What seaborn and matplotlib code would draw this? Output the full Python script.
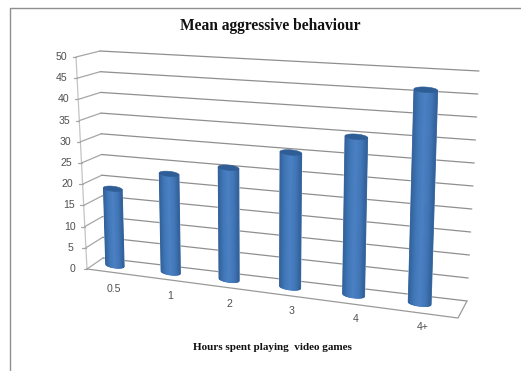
import numpy as np
import pandas as pd
import seaborn as sns
import matplotlib.pyplot as plt
from matplotlib.transforms import Transform, IdentityTransform
from matplotlib.colors import LinearSegmentedColormap

sns.set_theme(style="white")

hours = ["0.5", "1", "2", "3", "4", "4+"]
behaviour = [18.2, 23.0, 25.7, 30.4, 35.1, 46.5]
y_ticks = [0, 5, 10, 15, 20, 25, 30, 35, 40, 45, 50]

W, H = 521, 371
BAR_DEPTH = 0.55

# corners of the excel 3d box in image pixels (front/back, left/right)
FL0, FL1 = np.array([87, 269.]), np.array([76, 57.])
BL0, BL1 = np.array([103, 258.]), np.array([100, 51.])
FR0, FR1 = np.array([458, 318.]), np.array([462, 83.])
BR0, BR1 = np.array([467, 301.]), np.array([479, 71.])


def along(i):
    # category position -> share of the box width, spacing grows to the right
    return 0.052 + 0.152 * i + 0.0035 * i * (i - 1)


def project(x, v, d):
    x = np.asarray(x, dtype=float)
    v = np.asarray(v, dtype=float) / 50.0
    u = along(x)[..., None]
    v = v[..., None]
    left0 = FL0 + (BL0 - FL0) * d
    left1 = FL1 + (BL1 - FL1) * d
    right0 = FR0 + (BR0 - FR0) * d
    right1 = FR1 + (BR1 - FR1) * d
    bottom = left0 + (right0 - left0) * u
    top = left1 + (right1 - left1) * u
    return bottom + (top - bottom) * v


def to_display(p):
    p = np.asarray(p, dtype=float)
    return np.stack([p[..., 0], H - p[..., 1]], axis=-1)


class BoxTransform(Transform):
    input_dims = 2
    output_dims = 2

    def __init__(self, box_depth):
        super().__init__()
        self.box_depth = box_depth

    def transform_non_affine(self, values):
        values = np.asarray(values, dtype=float)
        return to_display(project(values[:, 0], values[:, 1], self.box_depth))


df = pd.DataFrame({"hours": hours, "behaviour": behaviour})

fig = plt.figure(figsize=(W / 100, H / 100), dpi=100, facecolor="white")
ax = fig.add_axes([0, 0, 1, 1])
sns.barplot(data=df, x="hours", y="behaviour", color="#3f72af", width=0.34, saturation=1, ax=ax)
ax.set_axis_off()
screen = IdentityTransform()


def line(points, color, lw=0.9, z=1):
    pts = to_display(np.array(points, dtype=float))
    ax.plot(pts[:, 0], pts[:, 1], color=color, lw=lw, transform=screen, zorder=z, clip_on=False)


def text(px, py, s, **kw):
    ax.text(px, H - py, s, transform=screen, ha="center", va="center", clip_on=False, **kw)


# picture frame
line([(9.5, 371), (9.5, 7.5), (521, 7.5)], "#8f8f8f", 1.0)

# walls and floor
line([FL1, FL0], "#c4c4c4")
for v in y_ticks:
    front = FL0 + (FL1 - FL0) * v / 50
    bl = BL0 + (BL1 - BL0) * v / 50
    br = BR0 + (BR1 - BR0) * v / 50
    line([front, bl], "#a6a6a6")
    line([bl, br], "#8f8f8f")
    line([front - (3.5, 0), front], "#a6a6a6")
    text(front[0] - 15, front[1], str(v), fontsize=7.6, color="#505050", family="Liberation Sans")
line([FL0, FR0, BR0], "#9a9a9a")

# cylinders: seaborn bars pushed through the box projection, then shaded
shade = LinearSegmentedColormap.from_list("cyl", ["#315f96", "#4077b8", "#4c82c3", "#4278b9", "#32619a"])
trans = BoxTransform(BAR_DEPTH)
order = 3
for bar in ax.patches:
    bar.set_transform(trans)
    bar.set_clip_on(False)
    bar.set_zorder(order)
    x0, w, v = bar.get_x(), bar.get_width(), bar.get_height()
    edges = np.linspace(-1, 1, 25)
    for a, b in zip(edges[:-1], edges[1:]):
        t = np.linspace(a, b, 4)
        xs = x0 + w * (t + 1) / 2
        low = -0.65 * np.sqrt(1 - t ** 2)
        ax.fill(np.r_[xs, xs[::-1]], np.r_[low, np.full(4, v)], transform=trans,
                color=shade((a + b + 2) / 4), lw=0.6, zorder=order + 0.1, clip_on=False)
    ang = np.linspace(0, 2 * np.pi, 60)
    ax.fill(x0 + w / 2 + w / 2 * np.cos(ang), v + 0.6 * np.sin(ang), transform=trans,
            color="#2f5e96", lw=0.4, zorder=order + 0.2, clip_on=False)

for i, name in enumerate(hours):
    p = project(float(i), 0.0, BAR_DEPTH)
    text(p[0] + 0.8 * i - 1, p[1] + 24, name, fontsize=7.6, color="#505050", family="Liberation Sans")

text(270.5, 26, "Mean aggressive behaviour", fontsize=11.2, fontweight="bold",
     family="Liberation Serif", color="#111111")
text(272, 348, "Hours spent playing  video games", fontsize=8.0, fontweight="bold",
     family="Liberation Serif", color="#111111")

fig.savefig("out.png", dpi=100)
